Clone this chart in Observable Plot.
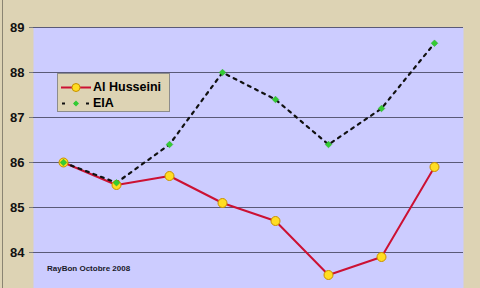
<!DOCTYPE html>
<html>
<head>
<meta charset="utf-8">
<script src="https://cdn.jsdelivr.net/npm/d3@7"></script>
<script src="https://cdn.jsdelivr.net/npm/@observablehq/plot@0.6"></script>
<style>
  html, body { margin: 0; padding: 0; background: #ddd3b4; }
  #wrap { position: relative; width: 480px; height: 288px; overflow: hidden; background: #ddd3b4; }
  #wrap::before { content: ""; position: absolute; left: 2px; top: 0; width: 1px; height: 288px; background: #8a8472; z-index: 3; }
  #legend { position: absolute; left: 57px; top: 73px; width: 111px; height: 37px; background: #ddd3b4; border: 1px solid #8c8c8c; font: bold 12.5px "Liberation Sans", Arial, sans-serif; line-height: 15px; color: #000; z-index: 2; }
  #legend .row { position: absolute; left: 2px; height: 15px; display: flex; align-items: center; white-space: nowrap; }
  #legend svg { display: block; }
  #note { position: absolute; left: 47px; top: 264px; font: bold 8px "Liberation Sans", Arial, sans-serif; line-height: 10px; color: #1a1a2a; z-index: 2; }
</style>
</head>
<body>
<div id="wrap"></div>
<script>
const periods = [1, 2, 3, 4, 5, 6, 7, 8];
const husseini = [86.0, 85.5, 85.7, 85.1, 84.7, 83.5, 83.9, 85.9];
const eia = [86.0, 85.55, 86.4, 88.0, 87.4, 86.4, 87.2, 88.65];
const yTicks = [84, 85, 86, 87, 88, 89];
const seriesNames = ["Al Husseini", "EIA"];
const noteText = "RayBon Octobre 2008";

const dataH = periods.map((p, i) => ({p, v: husseini[i]}));
const dataE = periods.map((p, i) => ({p, v: eia[i]}));

const chart = Plot.plot({
  width: 480,
  height: 288,
  marginLeft: 33,
  marginRight: 17,
  marginTop: 27,
  marginBottom: 0,
  style: {background: "transparent", fontFamily: "'Liberation Sans', Arial, sans-serif"},
  x: {type: "point", domain: periods, padding: 0.5, axis: null, label: null},
  y: {domain: [83.2, 89], ticks: yTicks, axis: null, label: null},
  marks: [
    Plot.frame({fill: "#ccccff", stroke: null}),
    Plot.ruleY(yTicks, {stroke: "#5a5a78", strokeWidth: 1.2}),
    Plot.ruleX([periods[0]], {x: () => null, frameAnchor: "left", stroke: "#7a7a7a", strokeWidth: 1.5}),
    Plot.axisY(yTicks, {anchor: "left", label: null, tickSize: 4, tickPadding: 5, stroke: "#7a7a7a", fontSize: 13, fontWeight: "bold", fill: "#111", tickFormat: d => String(d)}),
    Plot.line(dataH, {x: "p", y: "v", stroke: "#cc1133", strokeWidth: 2}),
    Plot.line(dataE, {x: "p", y: "v", stroke: "#111", strokeWidth: 2.2, strokeDasharray: "3,5"}),
    Plot.dot(dataH, {x: "p", y: "v", r: 4.5, fill: "#ffdd22", stroke: "#c89000", strokeWidth: 1}),
    Plot.dot(dataE, {x: "p", y: "v", r: 3, symbol: "diamond2", fill: "#33cc33", stroke: "#22aa22", strokeWidth: 0.5})
  ]
});

const wrap = document.getElementById("wrap");
wrap.appendChild(chart);

const legend = document.createElement("div");
legend.id = "legend";
legend.innerHTML =
  `<div class="row" style="top:6px"><svg width="33" height="15"><line x1="1" y1="7.5" x2="31" y2="7.5" stroke="#cc1133" stroke-width="2"/><circle cx="16" cy="7.5" r="4" fill="#ffdd22" stroke="#c89000"/></svg><span>${seriesNames[0]}</span></div>` +
  `<div class="row" style="top:22px"><svg width="33" height="15"><line x1="2" y1="7.5" x2="31" y2="7.5" stroke="#111" stroke-width="2.2" stroke-dasharray="3,9"/><path d="M16,4.5 L19,7.5 L16,10.5 L13,7.5 Z" fill="#33cc33"/></svg><span>${seriesNames[1]}</span></div>`;
wrap.appendChild(legend);

const note = document.createElement("div");
note.id = "note";
note.textContent = noteText;
wrap.appendChild(note);
</script>
</body>
</html>
